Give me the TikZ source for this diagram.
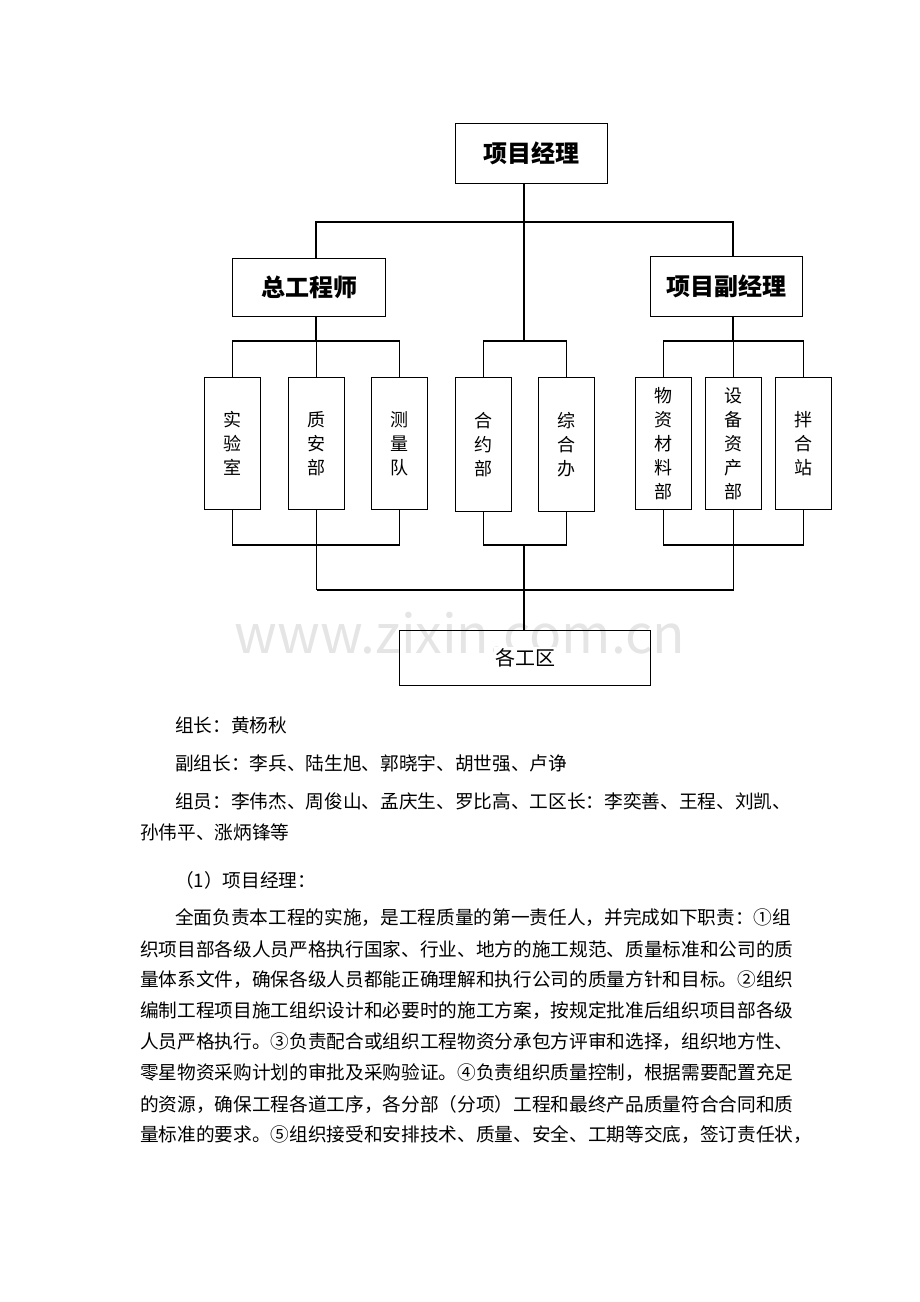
\documentclass[tikz,border=0pt]{standalone}
\usepackage{fontspec}
\setmainfont{Noto Sans CJK SC}
\begin{document}
\begin{tikzpicture}[x=0.75pt,y=-0.75pt,
  bx/.style={draw,line width=0.9pt,inner sep=0,anchor=north west},
  ln/.style={line width=0.9pt},
  big/.style={font=\fontsize{18}{20}\selectfont\bfseries},
  vt/.style={font=\fontsize{13.5}{18}\selectfont,align=center},
  tx/.style={anchor=west,inner sep=0,font=\fontsize{14}{16}\selectfont}]
\useasboundingbox (0,0) rectangle (920,1302);
\node[font=\fontsize{40}{44}\selectfont,text=black!10] (wm) at (460,633) {www.zixin.com.cn};
\node[bx,minimum width=152*0.75pt,minimum height=60*0.75pt] (pm) at (455,123) {};
\node[big] at (pm.center) {项目经理};
\node[bx,minimum width=153*0.75pt,minimum height=58*0.75pt] (ce) at (232,258) {};
\node[big] at (ce.center) {总工程师};
\node[bx,minimum width=152*0.75pt,minimum height=60*0.75pt] (dm) at (650,256) {};
\node[big] at (dm.center) {项目副经理};
\foreach \n/\x/\t/\h in {a/204/实\\验\\室/132, b/288/质\\安\\部/132, c/371/测\\量\\队/132, d/455/合\\约\\部/134, e/538/综\\合\\办/134, f/635/物\\资\\材\\料\\部/132, g/705/设\\备\\资\\产\\部/132, h/775/拌\\合\\站/132}{
  \node[bx,minimum width=56*0.75pt,minimum height=\h*0.75pt] (\n) at (\x,377) {};
  \node[vt] at (\n.center) {\t};
}
\node[bx,minimum width=251*0.75pt,minimum height=55*0.75pt] (wz) at (399,630) {};
\node[font=\fontsize{15}{18}\selectfont,fill=white,inner sep=1pt] at (wz.center) {各工区};
% connectors
\draw[ln] (pm.south -| 524,0) -- (524,341);
\draw[ln] (ce.north -| 316,0) |- (524,222) -| (dm.north -| 733,0);
\draw[ln] (ce.south -| 316,0) -- (316,341);
\draw[ln] (a.north) |- (316,341) -| (c.north);
\draw[ln] (b.north) -- (b.north |- 316,341);
\draw[ln] (d.north) |- (524,341) -| (e.north);
\draw[ln] (dm.south -| 733,0) -- (733,341);
\draw[ln] (f.north) |- (733,341) -| (h.north);
\draw[ln] (g.north) -- (g.north |- 0,341);
\draw[ln] (a.south) |- (316,545) -| (c.south);
\draw[ln] (b.south) -- (b.south |- 0,590);
\draw[ln] (d.south) |- (524,545) -| (e.south);
\draw[ln] (f.south) |- (733,545) -| (h.south);
\draw[ln] (g.south) -- (g.south |- 0,590);
\draw[ln] (b.south |- 0,590) -- (g.south |- 0,590);
\draw[ln] (524,545) -- (wz.north -| 524,0);
% text
\node[tx] (l1) at (175,725) {组长：黄杨秋};
\node[tx] (l2) at (175,763) {副组长：李兵、陆生旭、郭晓宇、胡世强、卢诤};
\node[tx] (l3) at (175,801) {组员：李伟杰、周俊山、孟庆生、罗比高、工区长：李奕善、王程、刘凯、};
\node[tx] (l4) at (140,832) {孙伟平、涨炳锋等};
\node[tx] (l5) at (175,880) {（1）项目经理：};
\node[tx] (l6) at (175,918) {全面负责本工程的实施，是工程质量的第一责任人，并完成如下职责：①组};
\node[tx] (l7) at (140,949) {织项目部各级人员严格执行国家、行业、地方的施工规范、质量标准和公司的质};
\node[tx] (l8) at (140,980) {量体系文件，确保各级人员都能正确理解和执行公司的质量方针和目标。②组织};
\node[tx] (l9) at (140,1011) {编制工程项目施工组织设计和必要时的施工方案，按规定批准后组织项目部各级};
\node[tx] (l10) at (140,1042) {人员严格执行。③负责配合或组织工程物资分承包方评审和选择，组织地方性、};
\node[tx] (l11) at (140,1073) {零星物资采购计划的审批及采购验证。④负责组织质量控制，根据需要配置充足};
\node[tx] (l12) at (140,1104) {的资源，确保工程各道工序，各分部（分项）工程和最终产品质量符合合同和质};
\node[tx] (l13) at (140,1135) {量标准的要求。⑤组织接受和安排技术、质量、安全、工期等交底，签订责任状，};
\end{tikzpicture}
\end{document}
